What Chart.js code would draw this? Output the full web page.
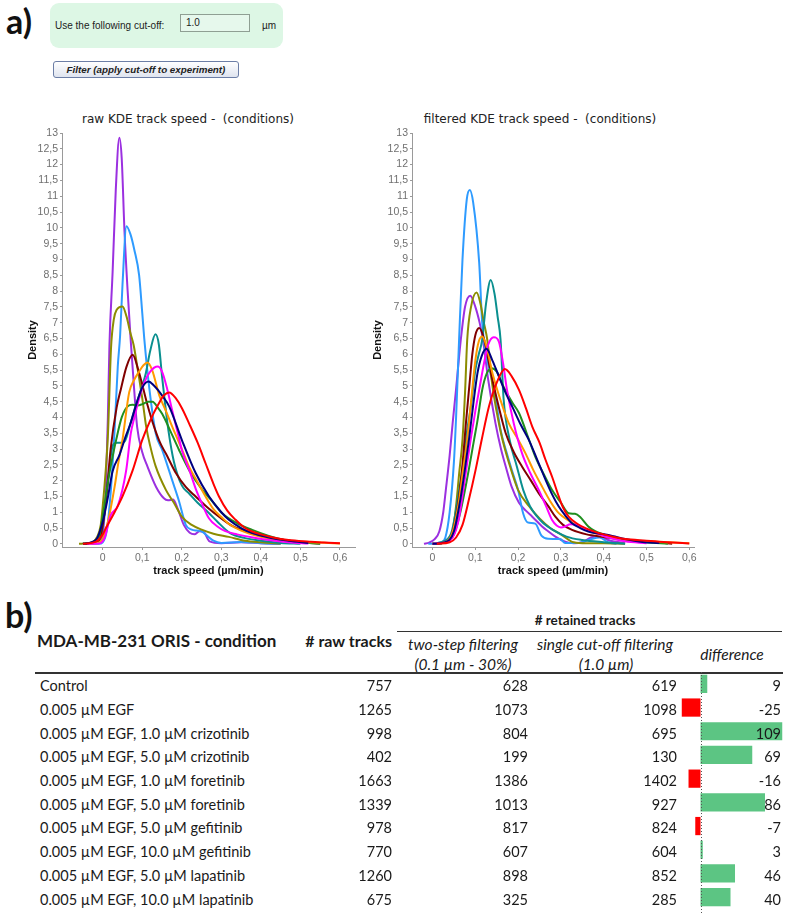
<!DOCTYPE html>
<html><head><meta charset="utf-8">
<script src="https://cdn.jsdelivr.net/npm/chart.js@4.4.1/dist/chart.umd.min.js"></script>
<style>
body{margin:0;background:#fff;width:787px;height:915px;position:relative;overflow:hidden;font-family:"Liberation Sans",Arial,sans-serif;color:#222;}
.abs{position:absolute;white-space:pre;}
.panel{position:absolute;left:50px;top:3px;width:233px;height:45px;background:#ddf7e5;border-radius:9px;}
.lbl{font-size:10px;color:#222;}
.inp{position:absolute;left:180px;top:14px;width:70px;height:18px;border:1px solid #8f9f93;background:#e6f8ec;font-size:10px;line-height:16px;box-sizing:border-box;padding-left:5px;}
.btn{position:absolute;left:53px;top:61px;width:186px;height:17px;border:1px solid #6c7ea6;border-radius:3px;background:linear-gradient(#ffffff,#dfe4ef);box-sizing:border-box;font-size:9.8px;font-weight:bold;font-style:italic;text-align:center;line-height:15px;color:#222;}
.big{font-family:"Lato","Liberation Sans",sans-serif;font-weight:bold;font-size:34px;color:#111;}
.ctitle{font-family:"DejaVu Sans",sans-serif;font-size:12px;color:#222;text-align:center;}
.tb{font-family:"Lato","Liberation Sans",sans-serif;font-size:14.5px;color:#1a1a1a;}
.th{font-family:"Lato","Liberation Sans",sans-serif;font-weight:bold;color:#1a1a1a;}
.ti{font-family:"Lato","Liberation Sans",sans-serif;font-size:15.5px;font-style:italic;color:#1a1a1a;text-align:center;}
canvas{position:absolute;}
#rows{position:absolute;left:0;top:0;z-index:2;}
</style></head><body>

<div class="abs big" style="left:6px;top:0px;">a)</div>
<div class="panel"></div>
<div class="abs lbl" style="left:55px;top:20px;">Use the following cut-off:</div>
<div class="inp">1.0</div>
<div class="abs lbl" style="left:262px;top:20px;">µm</div>
<div class="btn">Filter (apply cut-off to experiment)</div>

<div class="abs ctitle" style="left:38px;top:112px;width:300px;">raw KDE track speed -  (conditions)</div>
<div class="abs ctitle" style="left:390px;top:112px;width:300px;">filtered KDE track speed -  (conditions)</div>
<canvas id="rawChart" width="350" height="474" style="left:15px;top:105px;width:350px;height:474px;"></canvas>
<canvas id="filtChart" width="336" height="474" style="left:368px;top:105px;width:336px;height:474px;"></canvas>

<div class="abs big" style="left:5px;top:594px;">b)</div>
<div class="abs th" style="left:485px;top:612px;width:200px;text-align:center;font-size:13.5px;"># retained tracks</div>
<div class="abs" style="left:397px;top:631px;width:385px;height:0;border-top:1.5px solid #333;"></div>
<div class="abs th" style="left:37px;top:630px;font-size:17px;">MDA-MB-231 ORIS - condition</div>
<div class="abs th" style="left:272px;top:631px;width:120px;text-align:right;font-size:16px;"># raw tracks</div>
<div class="abs ti" style="left:393px;top:635px;width:140px;">two-step filtering</div>
<div class="abs ti" style="left:393px;top:655px;width:140px;">(0.1 µm - 30%)</div>
<div class="abs ti" style="left:530px;top:635px;width:150px;">single cut-off filtering</div>
<div class="abs ti" style="left:531px;top:655px;width:150px;">(1.0 µm)</div>
<div class="abs ti" style="left:682px;top:645px;width:100px;">difference</div>
<div class="abs" style="left:35px;top:672px;width:748px;height:0;border-top:2px solid #333;"></div>
<canvas id="diffChart" width="113" height="243" style="left:670px;top:672px;width:113px;height:243px;"></canvas>
<div id="rows"></div>

<script>
// ---------- data: table ----------
const conditions = ["Control","0.005 µM EGF","0.005 µM EGF, 1.0 µM crizotinib","0.005 µM EGF, 5.0 µM crizotinib","0.005 µM EGF, 1.0 µM foretinib","0.005 µM EGF, 5.0 µM foretinib","0.005 µM EGF, 5.0 µM gefitinib","0.005 µM EGF, 10.0 µM gefitinib","0.005 µM EGF, 5.0 µM lapatinib","0.005 µM EGF, 10.0 µM lapatinib"];
const rawTracks = [757,1265,998,402,1663,1339,978,770,1260,675];
const twoStepTracks = [628,1073,804,199,1386,1013,817,607,898,325];
const singleCutoffTracks = [619,1098,695,130,1402,927,824,604,852,285];
const differenceTracks = [9,-25,109,69,-16,86,-7,3,46,40];

// ---------- data: axis ticks ----------
const speedTicks = [0,0.1,0.2,0.3,0.4,0.5,0.6];
const densityTicks = [0,0.5,1,1.5,2,2.5,3,3.5,4,4.5,5,5.5,6,6.5,7,7.5,8,8.5,9,9.5,10,10.5,11,11.5,12,12.5,13];

// ---------- data: raw KDE curves [speed, density] ----------
const rawPurple = [[-0.03,0],[-0.01,0.02],[0,0.3],[0.008,1.8],[0.013,4.0],[0.017,6.3],[0.025,8.6],[0.033,11.2],[0.042,12.85],[0.048,12.2],[0.055,9.9],[0.063,8.0],[0.071,6.4],[0.08,4.8],[0.087,3.7],[0.1,2.9],[0.113,2.45],[0.135,1.8],[0.154,1.45],[0.165,1.38],[0.178,1.4],[0.19,1.1],[0.205,0.6],[0.22,0.35],[0.232,0.3],[0.245,0.4],[0.255,0.38],[0.27,0.08],[0.3,0.02],[0.35,0.05],[0.4,0.02],[0.45,0]];
const rawBlue = [[-0.04,0],[-0.01,0],[0,0.05],[0.01,0.4],[0.02,1.6],[0.03,3.6],[0.038,5.6],[0.044,6.6],[0.05,8.2],[0.06,10.05],[0.07,9.8],[0.08,9.3],[0.092,8.5],[0.1,7.3],[0.105,6.5],[0.118,4.9],[0.134,3.5],[0.151,2.95],[0.176,2.0],[0.193,1.35],[0.21,0.6],[0.225,0.45],[0.238,0.42],[0.25,0.4],[0.265,0.25],[0.28,0.1],[0.3,0.03],[0.35,0.06],[0.4,0.02],[0.45,0]];
const rawOlive = [[-0.06,0],[-0.03,0.03],[-0.015,0.2],[-0.005,0.6],[0,1.2],[0.008,2.4],[0.013,3.4],[0.021,6.2],[0.028,7.1],[0.035,7.4],[0.05,7.51],[0.06,7.2],[0.07,6.67],[0.078,6.3],[0.09,5.4],[0.1,4.6],[0.11,3.7],[0.12,3.1],[0.134,2.45],[0.16,1.7],[0.18,1.3],[0.2,0.86],[0.225,0.6],[0.252,0.44],[0.28,0.32],[0.319,0.22],[0.36,0.1],[0.4,0.05],[0.45,0.01]];
const rawTeal = [[-0.05,0],[-0.02,0.02],[-0.005,0.2],[0.005,1.0],[0.015,2.2],[0.025,3.1],[0.035,3.2],[0.05,3.2],[0.058,3.3],[0.07,3.8],[0.084,4.4],[0.1,5.0],[0.109,5.4],[0.12,6.1],[0.1335,6.63],[0.142,6.3],[0.15,5.3],[0.158,4.4],[0.166,3.6],[0.18,2.6],[0.2,1.85],[0.218,1.6],[0.24,1.3],[0.269,0.97],[0.29,0.7],[0.322,0.34],[0.36,0.18],[0.4,0.1],[0.45,0.03],[0.5,0]];
const rawMaroon = [[-0.05,0],[-0.01,0.1],[0,0.6],[0.01,1.6],[0.02,3.0],[0.035,4.3],[0.046,4.9],[0.06,5.6],[0.0756,5.98],[0.09,5.5],[0.113,4.4],[0.13,3.7],[0.145,3.2],[0.16,2.85],[0.185,2.24],[0.21,1.8],[0.235,1.5],[0.265,1.15],[0.294,0.86],[0.33,0.55],[0.378,0.35],[0.42,0.2],[0.45,0.14],[0.5,0.05],[0.55,0.01]];
const rawOrange = [[-0.04,0],[-0.02,0.01],[0,0.15],[0.015,0.8],[0.03,1.8],[0.04,2.6],[0.05,3.3],[0.067,4.8],[0.08,5.2],[0.092,5.45],[0.103,5.65],[0.113,5.74],[0.125,5.5],[0.143,4.7],[0.16,4.2],[0.176,3.7],[0.2,3.0],[0.218,2.45],[0.24,1.95],[0.26,1.5],[0.28,1.1],[0.3,0.85],[0.32,0.62],[0.35,0.42],[0.4,0.22],[0.45,0.1],[0.5,0.06],[0.55,0.04],[0.6,0.01]];
const rawMagenta = [[-0.04,0],[-0.01,0.01],[0.005,0.2],[0.02,0.9],[0.038,1.2],[0.059,2.3],[0.071,3.5],[0.08,4.0],[0.092,4.6],[0.105,5.1],[0.12,5.45],[0.139,5.61],[0.15,5.45],[0.163,4.9],[0.176,4.2],[0.19,3.5],[0.2,2.97],[0.22,2.3],[0.235,1.75],[0.25,1.3],[0.269,0.8],[0.29,0.55],[0.31,0.4],[0.34,0.3],[0.38,0.2],[0.42,0.12],[0.47,0.05],[0.52,0.01]];
const rawNavy = [[-0.05,0],[-0.017,0.13],[0,0.7],[0.012,1.4],[0.025,2.3],[0.042,2.8],[0.058,3.4],[0.07,3.8],[0.087,4.5],[0.1,4.95],[0.116,5.14],[0.13,5.0],[0.15,4.7],[0.168,4.35],[0.2,3.29],[0.235,2.24],[0.269,1.5],[0.3,1.0],[0.319,0.76],[0.35,0.5],[0.378,0.34],[0.42,0.2],[0.47,0.1],[0.52,0.03]];
const rawGreen = [[-0.05,0],[-0.01,0.2],[0,0.9],[0.017,2.24],[0.034,3.29],[0.048,4.0],[0.063,4.35],[0.075,4.4],[0.088,4.38],[0.1,4.42],[0.115,4.5],[0.126,4.5],[0.14,4.3],[0.151,4.1],[0.17,3.6],[0.193,2.97],[0.22,2.3],[0.252,1.71],[0.28,1.3],[0.302,0.97],[0.34,0.65],[0.378,0.44],[0.42,0.25],[0.46,0.12],[0.5,0.05],[0.55,0]];
const rawRed = [[-0.05,0],[-0.017,0.07],[0,0.3],[0.008,0.5],[0.03,1.0],[0.05,1.5],[0.075,2.3],[0.1,3.29],[0.12,3.9],[0.14,4.4],[0.155,4.7],[0.168,4.79],[0.185,4.6],[0.2,4.3],[0.218,3.82],[0.24,3.2],[0.26,2.55],[0.28,1.9],[0.294,1.5],[0.315,1.05],[0.336,0.76],[0.36,0.5],[0.378,0.39],[0.4,0.3],[0.431,0.2],[0.47,0.12],[0.523,0.07],[0.56,0.04],[0.6,0.02]];

// ---------- data: filtered KDE curves [speed, density] ----------
const filtPurple = [[-0.02,0],[-0.008,0.04],[0.005,0.15],[0.016,0.4],[0.025,1.0],[0.031,1.7],[0.04,2.8],[0.047,3.82],[0.055,4.9],[0.066,6.45],[0.076,7.5],[0.088,7.85],[0.1,7.5],[0.11,7.0],[0.118,6.45],[0.13,5.2],[0.147,3.82],[0.16,3.0],[0.171,2.45],[0.185,1.8],[0.202,1.3],[0.218,1.05],[0.233,0.86],[0.245,0.7],[0.256,0.55],[0.27,0.4],[0.287,0.23],[0.31,0.07],[0.33,0.02],[0.35,0.05],[0.37,0.2],[0.39,0.25],[0.41,0.12],[0.45,0.02]];
const filtBlue = [[-0.01,0],[0.02,0.05],[0.03,0.2],[0.04,1.0],[0.05,2.6],[0.055,4.0],[0.062,6.45],[0.07,9.0],[0.08,10.9],[0.087,11.2],[0.095,10.8],[0.109,8.9],[0.116,7.0],[0.125,6.0],[0.135,5.4],[0.145,4.8],[0.159,3.6],[0.175,2.8],[0.186,2.3],[0.2,1.7],[0.212,0.95],[0.222,0.68],[0.24,0.64],[0.255,0.25],[0.27,0.16],[0.298,0.15],[0.31,0.03],[0.34,0.03],[0.37,0.15],[0.39,0.2],[0.41,0.05],[0.43,0]];
const filtOlive = [[0.0,0],[0.03,0.05],[0.047,0.4],[0.055,1.2],[0.062,2.2],[0.07,3.3],[0.076,4.8],[0.081,6.45],[0.09,7.5],[0.103,7.95],[0.112,7.6],[0.12,7.0],[0.128,6.45],[0.14,5.0],[0.16,3.5],[0.18,2.5],[0.2,1.7],[0.225,1.2],[0.25,0.8],[0.275,0.5],[0.3,0.3],[0.33,0.05],[0.36,0.02],[0.4,0.02],[0.45,0]];
const filtTeal = [[0.0,0],[0.03,0.1],[0.045,0.4],[0.06,1.5],[0.07,2.4],[0.08,3.5],[0.09,4.4],[0.1,5.5],[0.108,6.0],[0.116,6.45],[0.125,7.6],[0.136,8.35],[0.145,7.9],[0.152,7.2],[0.159,6.45],[0.166,4.6],[0.18,3.3],[0.197,2.45],[0.212,1.7],[0.228,1.18],[0.245,0.85],[0.259,0.65],[0.28,0.45],[0.313,0.23],[0.35,0.12],[0.4,0.05],[0.45,0]];
const filtMaroon = [[0.0,0],[0.03,0.05],[0.045,0.3],[0.06,1.3],[0.07,2.5],[0.078,3.82],[0.086,5.0],[0.093,6.0],[0.1,6.6],[0.109,6.83],[0.12,6.5],[0.135,5.5],[0.15,4.6],[0.171,3.5],[0.19,2.9],[0.209,2.45],[0.23,2.0],[0.248,1.6],[0.27,1.2],[0.287,0.86],[0.305,0.6],[0.326,0.44],[0.36,0.3],[0.4,0.22],[0.45,0.12],[0.5,0.08],[0.53,0.04],[0.56,0]];
const filtOrange = [[0.0,0],[0.03,0.05],[0.045,0.3],[0.06,1.2],[0.07,2.2],[0.081,3.29],[0.09,4.5],[0.1,5.8],[0.108,6.4],[0.116,6.56],[0.125,6.3],[0.14,5.4],[0.16,4.5],[0.178,3.82],[0.2,3.3],[0.217,2.87],[0.235,2.35],[0.256,1.81],[0.275,1.35],[0.295,0.97],[0.32,0.72],[0.341,0.55],[0.37,0.38],[0.4,0.25],[0.45,0.13],[0.5,0.08],[0.55,0.05],[0.6,0.02]];
const filtMagenta = [[0.0,0],[0.04,0.1],[0.06,0.7],[0.075,2.0],[0.089,3.29],[0.1,4.2],[0.109,4.87],[0.12,5.7],[0.13,6.3],[0.143,6.54],[0.155,6.4],[0.165,5.7],[0.174,4.87],[0.19,3.8],[0.209,2.87],[0.228,2.25],[0.248,1.71],[0.265,1.2],[0.279,0.76],[0.29,0.58],[0.3,0.52],[0.31,0.55],[0.322,0.62],[0.34,0.6],[0.36,0.45],[0.38,0.35],[0.4,0.25],[0.45,0.08],[0.5,0.02]];
const filtNavy = [[0.0,0],[0.03,0.05],[0.05,0.4],[0.065,1.4],[0.075,2.3],[0.085,3.29],[0.095,4.4],[0.105,5.4],[0.115,5.95],[0.126,6.17],[0.14,5.8],[0.155,5.3],[0.17,4.8],[0.186,4.35],[0.205,3.8],[0.225,3.29],[0.245,2.65],[0.264,2.03],[0.28,1.55],[0.295,1.18],[0.31,0.9],[0.326,0.65],[0.345,0.5],[0.364,0.39],[0.38,0.34],[0.4,0.3],[0.42,0.25],[0.45,0.15],[0.49,0.06],[0.53,0.03]];
const filtGreen = [[0.0,0],[0.03,0.05],[0.05,0.3],[0.065,1.0],[0.08,2.0],[0.097,3.29],[0.105,3.9],[0.116,4.87],[0.127,5.4],[0.138,5.56],[0.15,5.45],[0.165,5.0],[0.185,4.5],[0.202,4.14],[0.22,3.5],[0.24,2.76],[0.26,2.2],[0.279,1.71],[0.3,1.3],[0.318,0.97],[0.333,0.95],[0.345,0.85],[0.364,0.55],[0.38,0.4],[0.4,0.3],[0.42,0.22],[0.45,0.12],[0.5,0.05],[0.55,0]];
const filtRed = [[0.01,0],[0.04,0.05],[0.055,0.2],[0.07,0.6],[0.085,1.4],[0.1,2.3],[0.115,3.3],[0.132,4.35],[0.15,5.1],[0.169,5.53],[0.185,5.3],[0.202,4.87],[0.218,4.3],[0.233,3.71],[0.25,3.2],[0.264,2.66],[0.28,2.1],[0.295,1.5],[0.305,1.15],[0.318,0.86],[0.34,0.62],[0.357,0.5],[0.38,0.38],[0.4,0.3],[0.43,0.2],[0.45,0.15],[0.5,0.1],[0.52,0.08],[0.55,0.05],[0.6,0.01]];

// ---------- styles ----------
const FONT = '"Liberation Sans", Arial, sans-serif';
const lineColors = {red:'#ff0000',navy:'#000080',magenta:'#ff00ff',green:'#1f8f1f',orange:'#ff9900',maroon:'#800000',teal:'#0a8f8f',olive:'#8c8c00',blue:'#2e9bff',purple:'#9b30e0'};

function fmtNum(v){
  const r = Math.round(v*10)/10;
  return Number.isInteger(r) ? String(r) : r.toFixed(1).replace('.', ',');
}

function kdeChart(id, series, xmin, xmax, yWidth, titlePad){
  const datasets = series.map(([name, pts]) => ({
    label: name,
    data: pts.map(([x,y]) => ({x, y})),
    borderColor: lineColors[name],
    borderWidth: 2,
    pointRadius: 0,
    fill: false,
    cubicInterpolationMode: 'monotone'
  }));
  return new Chart(document.getElementById(id), {
    type: 'line',
    data: {datasets},
    options: {
      responsive: false, animation: false, devicePixelRatio: 1,
      layout: {padding: {top: 28, right: 10, left: 0, bottom: 0}},
      plugins: {legend: {display: false}, tooltip: {enabled: false}},
      scales: {
        x: {
          type: 'linear', min: xmin, max: xmax,
          afterBuildTicks: s => { s.ticks = speedTicks.map(v => ({value: v})); },
          afterFit: s => { s.height = 32; },
          ticks: {callback: v => fmtNum(v), color: '#707070', font: {size: 10.5, family: FONT}, padding: 2, maxRotation: 0, autoSkip: false},
          grid: {drawOnChartArea: false, drawTicks: true, tickLength: 3, color: '#9a9a9a'},
          border: {display: true, color: '#9a9a9a', width: 1},
          title: {display: true, text: 'track speed (µm/min)', color: '#111', font: {size: 11, weight: 'bold', family: FONT}, padding: {top: 0, bottom: 1}}
        },
        y: {
          type: 'linear', min: -0.1, max: 13,
          afterBuildTicks: s => { s.ticks = densityTicks.map(v => ({value: v})); },
          afterFit: s => { s.width = yWidth; },
          ticks: {callback: v => fmtNum(v), color: '#707070', font: {size: 10.5, family: FONT}, padding: 2, autoSkip: false},
          grid: {drawOnChartArea: false, drawTicks: true, tickLength: 2, color: '#9a9a9a'},
          border: {display: true, color: '#9a9a9a', width: 1},
          title: {display: true, text: 'Density', color: '#111', font: {size: 11, weight: 'bold', family: FONT}, padding: {top: titlePad, bottom: 0}}
        }
      }
    }
  });
}

const rawSeries = [['red',rawRed],['navy',rawNavy],['magenta',rawMagenta],['orange',rawOrange],['green',rawGreen],['maroon',rawMaroon],['teal',rawTeal],['olive',rawOlive],['blue',rawBlue],['purple',rawPurple]];
const filtSeries = [['red',filtRed],['navy',filtNavy],['magenta',filtMagenta],['orange',filtOrange],['green',filtGreen],['maroon',filtMaroon],['teal',filtTeal],['olive',filtOlive],['blue',filtBlue],['purple',filtPurple]];

kdeChart('rawChart', rawSeries, -0.103, 0.638, 47, 11);
kdeChart('filtChart', filtSeries, -0.048, 0.611, 44, 3);

// ---------- table rows ----------
const rowsEl = document.getElementById('rows');
const rowTop = 686.7, rowStep = 23.7;
conditions.forEach((c, i) => {
  const cy = rowTop + i*rowStep - 9.5;
  const cells = [
    [c, 40, null],
    [String(rawTracks[i]), null, 392],
    [String(twoStepTracks[i]), null, 528],
    [String(singleCutoffTracks[i]), null, 677],
    [String(differenceTracks[i]), null, 781]
  ];
  cells.forEach(([t, l, r]) => {
    const d = document.createElement('div');
    d.className = 'abs tb';
    d.textContent = t;
    d.style.top = cy + 'px';
    if (l !== null) d.style.left = l + 'px';
    else { d.style.left = (r - 120) + 'px'; d.style.width = '120px'; d.style.textAlign = 'right'; }
    rowsEl.appendChild(d);
  });
});

// ---------- difference bars ----------
const zeroLine = {
  id: 'zeroLine',
  afterDraw(chart){
    const x = Math.round(chart.scales.x.getPixelForValue(0)) + 0.5;
    const ctx = chart.ctx;
    ctx.save();
    ctx.strokeStyle = '#555';
    ctx.lineWidth = 1;
    ctx.setLineDash([1, 2]);
    ctx.beginPath(); ctx.moveTo(x, 0); ctx.lineTo(x, chart.height); ctx.stroke();
    ctx.restore();
  }
};
new Chart(document.getElementById('diffChart'), {
  type: 'bar',
  data: {
    labels: conditions,
    datasets: [{
      data: differenceTracks,
      backgroundColor: differenceTracks.map(v => v < 0 ? '#ff0000' : '#5cc583'),
      borderWidth: 0,
      barPercentage: 0.77,
      categoryPercentage: 1
    }]
  },
  options: {
    indexAxis: 'y', responsive: false, animation: false, devicePixelRatio: 1,
    layout: {padding: {top: 0, bottom: 6, left: 0, right: 0}},
    plugins: {legend: {display: false}, tooltip: {enabled: false}},
    scales: {
      x: {display: false, min: -40.7, max: 110},
      y: {display: false}
    }
  },
  plugins: [zeroLine]
});
</script>
</body></html>
